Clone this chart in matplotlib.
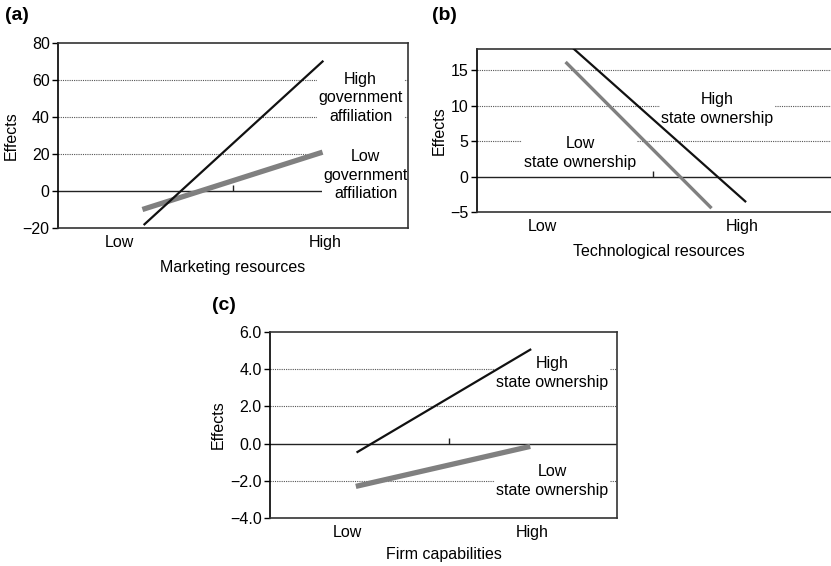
import matplotlib.pyplot as plt

W, H = 831, 566

# x positions: Low = 0, High = 1
tick_pos = [0, 1]
tick_labels = ['Low', 'High']

# panel (a)
a_x_high = [0.12, 0.985]
a_y_high = [-18, 70]
a_x_low = [0.11, 0.985]
a_y_low = [-10, 21]
a_yticks = [-20, 0, 20, 40, 60, 80]

# panel (b)
b_x_high = [0.156, 1.015]
b_y_high = [18, -3.5]
b_x_low = [0.12, 0.84]
b_y_low = [16, -4.3]
b_yticks = [-5, 0, 5, 10, 15]

# panel (c)
c_x_high = [0.054, 0.99]
c_y_high = [-0.45, 5.05]
c_x_low = [0.045, 0.99]
c_y_low = [-2.3, -0.15]
c_yticks = [-4.0, -2.0, 0.0, 2.0, 4.0, 6.0]

FS = 11.5


def px_axes(fig, left, top, right, bottom):
    return fig.add_axes([left / W, 1 - bottom / H, (right - left) / W, (bottom - top) / H])


def style(ax, xlim, ylim, yticks, fmt, xlabel, xpad=7):
    ax.set_xlim(*xlim)
    ax.set_ylim(*ylim)
    ax.set_yticks(yticks)
    ax.set_yticklabels([fmt(v).replace('-', '\u2212') for v in yticks])
    ax.set_xticks(tick_pos)
    ax.set_xticklabels(tick_labels)
    ax.tick_params(axis='x', length=0, pad=5, labelsize=FS)
    ax.tick_params(axis='y', length=4, width=1, direction='out', labelsize=FS, pad=2)
    for v in yticks:
        if v == 0:
            ax.axhline(0, color='#222222', lw=1.0, zorder=1)
        elif v not in ylim:
            ax.axhline(v, color='#555555', lw=0.8, ls=(0, (1, 1)), zorder=1)
    ax.plot([0.55], [0], marker=2, ms=4, color='#222222', zorder=1)
    ax.spines['left'].set_color('black')
    ax.spines['left'].set_linewidth(1.2)
    for s in ['top', 'bottom', 'right']:
        ax.spines[s].set_color('#333333')
        ax.spines[s].set_linewidth(1.2)
    ax.set_ylabel('Effects', fontsize=FS, labelpad=3)
    ax.set_xlabel(xlabel, fontsize=FS, labelpad=xpad)


def label(ax, x, y, s):
    ax.text(x, y, s, ha='center', va='center', fontsize=FS, linespacing=1.32,
            bbox=dict(facecolor='white', edgecolor='none', pad=1), zorder=2)


fig = plt.figure(figsize=(W / 100, H / 100), dpi=100)
plt.rcParams['font.family'] = ['Liberation Sans', 'DejaVu Sans']

# (a)
ax = px_axes(fig, 58, 43, 408, 228)
style(ax, (-0.30, 1.40), (-20, 80), a_yticks, lambda v: '%d' % v, 'Marketing resources')
ax.plot(a_x_low, a_y_low, color='#808080', lw=3.8, solid_capstyle='butt', zorder=3)
ax.plot(a_x_high, a_y_high, color='#111111', lw=1.6, zorder=4)
label(ax, 1.17, 50.3, 'High\ngovernment\naffiliation')
label(ax, 1.195, 8.6, 'Low\ngovernment\naffiliation')
fig.text(5 / W, 1 - 16 / H, '(a)', fontsize=14, fontweight='bold', va='center')

# (b)
ax = px_axes(fig, 477, 49, 840, 212)
style(ax, (-0.33, 1.49), (-5, 18), b_yticks, lambda v: '%d' % v, 'Technological resources')
ax.plot(b_x_low, b_y_low, color='#808080', lw=2.4, zorder=3)
ax.plot(b_x_high, b_y_high, color='#111111', lw=1.6, zorder=4)
label(ax, 0.875, 9.5, 'High\nstate ownership')
label(ax, 0.186, 3.3, 'Low\nstate ownership')
fig.text(432 / W, 1 - 15 / H, '(b)', fontsize=14, fontweight='bold', va='center')

# (c)
ax = px_axes(fig, 270, 332, 617, 518)
style(ax, (-0.42, 1.46), (-4, 6), c_yticks, lambda v: '%.1f' % v, 'Firm capabilities', xpad=5)
ax.plot(c_x_low, c_y_low, color='#808080', lw=3.8, solid_capstyle='butt', zorder=3)
ax.plot(c_x_high, c_y_high, color='#111111', lw=1.6, zorder=4)
label(ax, 1.11, 3.8, 'High\nstate ownership')
label(ax, 1.11, -2.0, 'Low\nstate ownership')
fig.text(212 / W, 1 - 305 / H, '(c)', fontsize=14, fontweight='bold', va='center')

fig.savefig('out.png', dpi=100)
